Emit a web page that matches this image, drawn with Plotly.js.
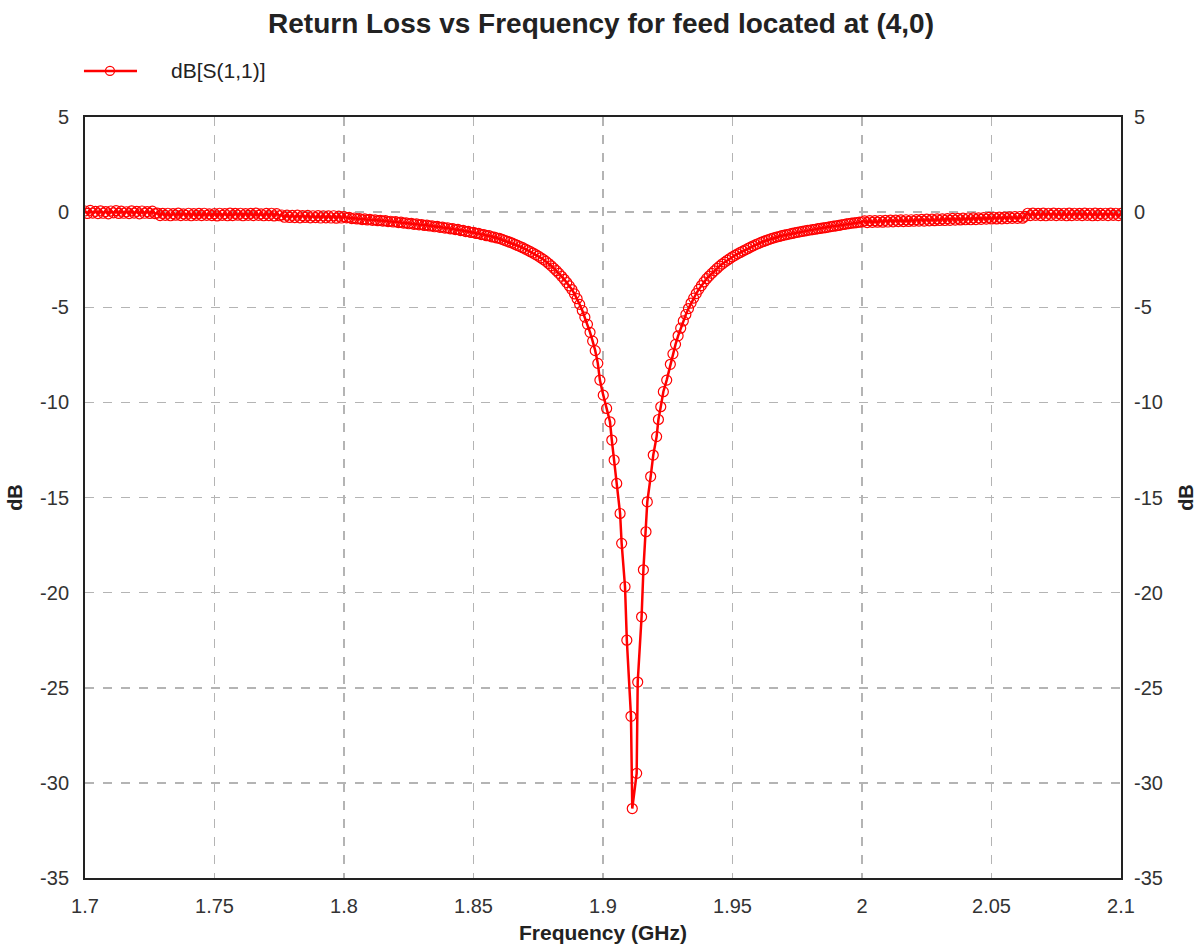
<!DOCTYPE html>
<html>
<head>
<meta charset="utf-8">
<script src="https://cdn.plot.ly/plotly-3.0.1.min.js"></script>
<style>html,body{margin:0;padding:0;background:#fff;}#chart{width:1202px;height:947px;}</style>
</head>
<body>
<div id="chart"></div>
<script>
// Sweep step (GHz) of the simulated frequency sweep, read from the marker spacing
const sweepStep = 0.001;

// dB values, per sweep segment (start frequency in GHz)
const segAStart = 1.700;
const segA = [0.06,-0.07,0.09,-0.05,0.04,-0.08,0.07,-0.06,0.03,-0.09,0.06,-0.04,0.08,-0.07,0.05,-0.06,0.02,-0.08,0.07,-0.05,0.04,-0.09,0.06,-0.06,0.03,-0.07,0.05,-0.08];
const segBStart = 1.728;
const segB = [-0.05,-0.18,-0.07,-0.17,-0.06,-0.19,-0.08,-0.16,-0.05,-0.18,-0.09,-0.17,-0.06,-0.19,-0.08,-0.17,-0.07,-0.18,-0.06,-0.17,-0.09,-0.18,-0.08,-0.20,
  -0.06,-0.17,-0.08,-0.19,-0.05,-0.18,-0.07,-0.16,-0.06,-0.19,-0.08,-0.17,-0.07,-0.18,-0.05,-0.17,-0.09,-0.19,-0.07,-0.18,-0.06,-0.20,-0.08,-0.19];
const segCStart = 1.776;
const segC = [-0.15,-0.27,-0.16,-0.28,-0.17,-0.29,-0.16,-0.30,-0.18,-0.28,-0.17,-0.30,-0.19,-0.29,-0.18,-0.31,-0.19,-0.30,-0.20,-0.31,-0.19,-0.32,-0.21,-0.31];
const segDStart = 1.800;
const segD = [-0.24,-0.30,-0.28,-0.34,-0.31,-0.36,-0.34,-0.39,-0.36,-0.41,-0.38,-0.43,-0.40,-0.45,-0.43,-0.47,-0.45,-0.50,-0.48,-0.52,
  -0.50,-0.55,-0.53,-0.58,-0.56,-0.61,-0.59,-0.64,-0.62,-0.67,-0.65,-0.70,-0.68,-0.73,-0.72,-0.77,-0.75,-0.80,-0.79,-0.84,
  -0.82,-0.88,-0.87,-0.92,-0.91,-0.97,-0.96,-1.02,-1.01,-1.07,-1.06,-1.12,-1.12,-1.18,-1.18,-1.24,-1.24,-1.30,-1.31,-1.36];
const segEStart = 1.860;
const segE = [-1.38,-1.43,-1.48,-1.53,-1.58,-1.63,-1.69,-1.75,-1.81,-1.87,-1.94,-2.01,-2.08,-2.15,-2.23,-2.31,-2.40,-2.49,-2.59,-2.70,
  -2.82,-2.95,-3.08,-3.22,-3.37,-3.53,-3.70,-3.88,-4.07,-4.30,-4.55,-4.85,-5.17,-5.52,-5.90,-6.32,-6.78,-7.28,-7.95];

// Resonance region: individual markers read one by one (frequency, dB)
const freqDip = [1.8988,1.9001,1.9014,1.9027,1.9034,1.9043,1.9053,1.9066,1.9072,1.9085,1.9092,1.9108,1.9113,
  1.9130,1.9134,1.9149,1.9156,1.9166,1.9171,1.9184,1.9194,1.9207,1.9214,1.9223,1.9233,1.9246];
const dbDip = [-8.83,-9.62,-10.32,-11.02,-11.98,-13.03,-14.26,-15.84,-17.41,-19.69,-22.50,-26.50,-31.35,
  -29.50,-24.70,-21.27,-18.80,-16.80,-15.23,-13.90,-12.77,-11.80,-10.90,-10.23,-9.44,-8.83];

const segFStart = 1.926;
const segF = [-8.00,-7.45,-6.95,-6.50,-6.10,-5.72,-5.38,-5.07,-4.78,-4.52,-4.28,-4.06,-3.86,-3.67,-3.50,
  -3.36,-3.22,-3.09,-2.96,-2.84,-2.73,-2.63,-2.53,-2.44,-2.35,-2.27,-2.19,-2.12,-2.05,-1.98,-1.91,-1.84,-1.77,-1.71,-1.65,
  -1.59,-1.54,-1.49,-1.44,-1.39,-1.35,-1.31,-1.28,-1.24,-1.21,-1.18,-1.15,-1.12,-1.09,-1.06,-1.04,-1.01,-0.99,-0.96,-0.94,
  -0.92,-0.90,-0.87,-0.85,-0.83,-0.81,-0.79,-0.76,-0.74,-0.72,-0.70,-0.67,-0.65,-0.62,-0.60,-0.58,-0.57,-0.55,-0.53,-0.52];
const segGStart = 2.001;
const segG = [-0.46,-0.55,-0.45,-0.54,-0.45,-0.53,-0.44,-0.53,-0.43,-0.52,-0.42,-0.51,-0.42,-0.50,-0.41,-0.50,-0.40,-0.49,-0.40,-0.48,
  -0.39,-0.47,-0.38,-0.47,-0.37,-0.46,-0.37,-0.45,-0.36,-0.44,-0.35,-0.44,-0.34,-0.43,-0.33,-0.42,-0.33,-0.41,-0.32,-0.40,
  -0.31,-0.40,-0.30,-0.39,-0.30,-0.38,-0.29,-0.37,-0.28,-0.36,-0.27,-0.36,-0.26,-0.35,-0.26,-0.34,-0.25,-0.33,-0.24,-0.33,-0.23,-0.32,-0.22];
const segHStart = 2.064;
const segH = [-0.06,-0.18,-0.05,-0.17,-0.07,-0.18,-0.05,-0.19,-0.06,-0.17,-0.05,-0.18,-0.07,-0.17,-0.06,-0.19,-0.05,-0.18,-0.06,-0.17,
  -0.07,-0.18,-0.05,-0.17,-0.06,-0.19,-0.05,-0.18,-0.07,-0.17,-0.06,-0.18,-0.05,-0.17,-0.06,-0.18,-0.07];

const xTickVals = [1.7,1.75,1.8,1.85,1.9,1.95,2.0,2.05,2.1];
const xTickText = ['1.7','1.75','1.8','1.85','1.9','1.95','2','2.05','2.1'];
const yTickVals = [5,0,-5,-10,-15,-20,-25,-30,-35];
const yTickText = ['5','0','-5','-10','-15','-20','-25','-30','-35'];

const seriesName = 'dB[S(1,1)]';
const titleText = 'Return Loss vs Frequency for feed located at (4,0)';

// Build the sweep: each segment's frequencies follow the sweep grid
function sweepFreqs(start, vals) { return vals.map((_, i) => +(start + i * sweepStep).toFixed(4)); }
const freq = [].concat(
  sweepFreqs(segAStart, segA), sweepFreqs(segBStart, segB), sweepFreqs(segCStart, segC),
  sweepFreqs(segDStart, segD), sweepFreqs(segEStart, segE), freqDip,
  sweepFreqs(segFStart, segF), sweepFreqs(segGStart, segG), sweepFreqs(segHStart, segH));
const db = [].concat(segA, segB, segC, segD, segE, dbDip, segF, segG, segH);

const FONT = 'Liberation Sans, Arial, sans-serif';
const tickFont = {family: FONT, size: 20, color: '#333'};
const gridCol = '#b4b4b4';
const RED = '#ff0000';

const trace = {
  x: freq, y: db, type: 'scatter', mode: 'lines+markers', name: seriesName,
  line: {color: RED, width: 2.5},
  marker: {symbol: 'circle-open', size: 10, color: RED, line: {width: 1.2, color: RED}},
  showlegend: false
};
// carrier for the mirrored right-hand dB axis (not visible)
const rightAxisCarrier = {
  x: [freq[0]], y: [db[0]], yaxis: 'y2', type: 'scatter', mode: 'markers',
  marker: {opacity: 0}, showlegend: false, hoverinfo: 'skip'
};

// Legend key (drawn in paper coordinates above the plot's top-left corner)
const legY = 1.0605;
const layout = {
  width: 1202, height: 947,
  paper_bgcolor: '#fff', plot_bgcolor: '#fff',
  margin: {l: 85, r: 81, t: 117, b: 69},
  title: {text: titleText, font: {family: FONT, size: 28, color: '#222', weight: 'bold'}, x: 0.5, xanchor: 'center', y: 0.976, yanchor: 'middle'},
  showlegend: false,
  shapes: [
    {type: 'line', xref: 'paper', yref: 'paper', x0: -0.001, x1: 0.0502, y0: legY, y1: legY, line: {color: RED, width: 2.5}},
    {type: 'circle', xref: 'paper', yref: 'paper', xsizemode: 'pixel', ysizemode: 'pixel',
     xanchor: 0.0241, yanchor: legY, x0: -4.5, x1: 4.5, y0: -4.5, y1: 4.5,
     line: {color: RED, width: 1.3}, fillcolor: 'rgba(0,0,0,0)'}
  ],
  annotations: [
    {text: seriesName, xref: 'paper', yref: 'paper', x: 0.0815, y: legY, xanchor: 'left', yanchor: 'middle',
     showarrow: false, font: {family: FONT, size: 21, color: '#222'}}
  ],
  xaxis: {
    range: [1.7, 2.1], tickvals: xTickVals, ticktext: xTickText, ticks: '',
    showgrid: true, gridcolor: gridCol, gridwidth: 1.5, griddash: 'dash',
    showline: true, linecolor: '#222', linewidth: 2, mirror: true, zeroline: false,
    tickfont: tickFont, ticklabelstandoff: 9,
    title: {text: 'Frequency (GHz)', font: {family: FONT, size: 21, color: '#222', weight: 'bold'}, standoff: 9}
  },
  yaxis: {
    range: [-35, 5], tickvals: yTickVals, ticktext: yTickText, ticks: '',
    showgrid: true, gridcolor: gridCol, gridwidth: 1.5, griddash: 'dash',
    showline: true, linecolor: '#222', linewidth: 2, mirror: true, zeroline: false,
    tickfont: tickFont, ticklabelstandoff: 10,
    title: {text: 'dB', font: {family: FONT, size: 20, color: '#222', weight: 'bold'}, standoff: 12}
  },
  yaxis2: {
    range: [-35, 5], tickvals: yTickVals, ticktext: yTickText, ticks: '',
    overlaying: 'y', side: 'right', showgrid: false, zeroline: false, showline: false,
    tickfont: tickFont, ticklabelstandoff: 12,
    title: {text: 'dB', font: {family: FONT, size: 20, color: '#222', weight: 'bold'}, standoff: 17}
  }
};

Plotly.newPlot('chart', [trace, rightAxisCarrier], layout, {displayModeBar: false, staticPlot: true});
</script>
</body>
</html>
